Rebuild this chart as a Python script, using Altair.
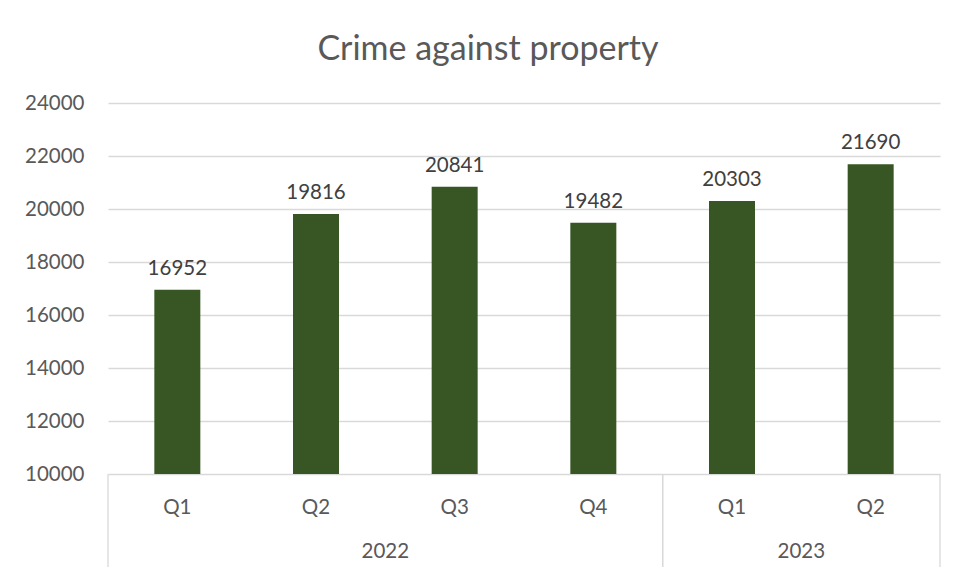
import altair as alt
import pandas as pd

years = ["2022", "2022", "2022", "2022", "2023", "2023"]
quarters = ["Q1", "Q2", "Q3", "Q4", "Q1", "Q2"]
values = [16952, 19816, 20841, 19482, 20303, 21690]

df = pd.DataFrame({
    "year": years,
    "quarter": quarters,
    "value": values,
    "idx": list(range(len(values))),
})

FONT = "Lato"
GRAY = "#595959"
W, H = 832, 371

xscale = alt.Scale(domain=[0, len(values)], padding=0, nice=False, zero=False)
yscale = alt.Scale(domain=[10000, 24000], nice=False, zero=False)

base = alt.Chart(df).transform_calculate(pos="datum.idx + 0.5")

bars = base.mark_bar(size=46, color="#375623").encode(
    x=alt.X("pos:Q", scale=xscale, axis=None),
    y=alt.Y("value:Q", scale=yscale, title=None,
            axis=alt.Axis(values=list(range(10000, 24001, 2000)), format="d",
                          grid=True, gridColor="#d9d9d9", gridWidth=1.3,
                          domain=False, ticks=False,
                          labelPadding=24, labelFont=FONT, labelFontSize=20.5,
                          labelColor=GRAY)),
    y2=alt.datum(10000),
)

labels = base.mark_text(dy=-21, font=FONT, fontSize=20.5, color="#404040").encode(
    x=alt.X("pos:Q", scale=xscale),
    y=alt.Y("value:Q", scale=yscale),
    text=alt.Text("value:Q", format="d"),
)

qlabels = base.mark_text(font=FONT, fontSize=20.5, color=GRAY).encode(
    x=alt.X("pos:Q", scale=xscale),
    y=alt.value(H + 34),
    text="quarter:N",
)

years_agg = base.transform_aggregate(
    lo="min(idx)", hi="max(idx)", groupby=["year"]
).transform_calculate(
    center="(datum.lo + datum.hi + 1) / 2",
    left="datum.lo",
    right="datum.hi + 1",
)

ylabels = years_agg.mark_text(font=FONT, fontSize=20.5, color=GRAY).encode(
    x=alt.X("center:Q", scale=xscale),
    y=alt.value(H + 78),
    text="year:N",
)

lrules = years_agg.mark_rule(color="#d9d9d9", strokeWidth=1.3).encode(
    x=alt.X("left:Q", scale=xscale),
    y=alt.value(H),
    y2=alt.value(H + 93),
)
rrules = years_agg.mark_rule(color="#d9d9d9", strokeWidth=1.3).encode(
    x=alt.X("right:Q", scale=xscale),
    y=alt.value(H),
    y2=alt.value(H + 93),
)

chart = alt.layer(bars, labels, qlabels, ylabels, lrules, rrules).properties(
    width=W,
    height=H,
    title=alt.TitleParams("Crime against property", font=FONT, fontSize=34,
                          fontWeight="normal", color=GRAY, anchor="middle",
                          dx=-36, offset=26),
    autosize=alt.AutoSizeParams(type="none"),
    padding={"left": 100, "top": 95, "right": 10, "bottom": 97},
).configure_view(stroke=None)

chart.save("out.html", embed_options={"renderer": "svg", "actions": False})
